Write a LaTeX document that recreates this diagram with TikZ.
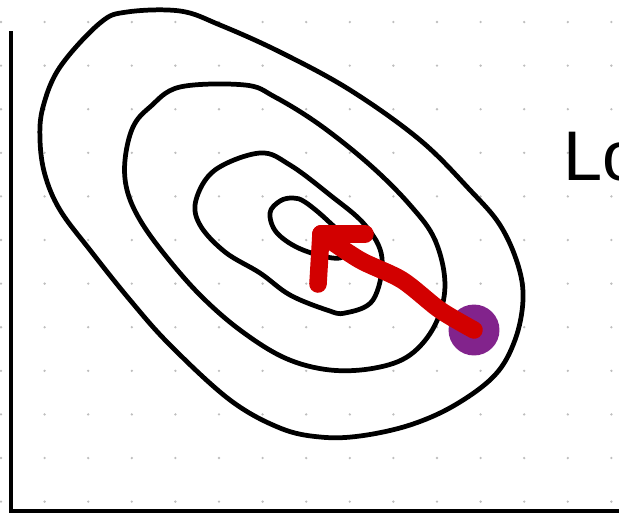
\documentclass[tikz,border=0pt]{standalone}
\usepackage{fontspec}
\setsansfont{Liberation Sans}
\usepackage{tikz}
\definecolor{gradred}{RGB}{210,0,0}
\definecolor{startdot}{RGB}{130,35,140}
\definecolor{griddot}{RGB}{190,190,190}

\begin{document}
\begin{tikzpicture}[x=0.02cm, y=-0.02cm,
  contour/.style={draw=black, line width=2.7pt, line join=round, line cap=round},
  axis/.style={draw=black, line width=2.3pt},
  grad/.style={draw=gradred, line width=10pt, line cap=round, line join=round},
  dot/.style={circle, fill=startdot, minimum size=29pt, inner sep=0pt}
]
  \useasboundingbox (0,0) rectangle (619,515);
  \clip (0,0) rectangle (619,515);
  % dotted paper
  \foreach \i in {0,...,14}
    \foreach \j in {0,...,11}
      \fill[griddot] (1+43.6*\i, 22+43.6*\j) circle (1.3);
  % axes
  \draw[axis] (11,31) -- (11,511) -- (619,511);
  % level sets
  \draw[contour] plot[smooth cycle, tension=0.6] coordinates {
    (127,12) (180,11) (220,25) (280,52) (350,90) (420,140) (470,190)
    (500,225) (518,265) (523,300) (515,340) (495,375) (455,405)
    (410,425) (360,436) (320,437) (280,428) (230,400) (170,345)
    (130,300) (90,250) (60,210) (45,175) (40,140) (43,107) (60,67) (100,23)};
  \draw[contour] plot[smooth cycle, tension=0.6] coordinates {
    (245,85) (275,97) (320,125) (370,165) (410,205) (435,240) (445,285)
    (435,325) (410,355) (375,368) (330,370) (285,358) (240,330)
    (200,295) (165,255) (140,220) (127,190) (125,160) (133,127)
    (150,107) (180,87)};
  \draw[contour] plot[smooth cycle, tension=0.6] coordinates {
    (260,153) (290,165) (330,195) (365,225) (382,258) (373,300)
    (345,313) (327,310) (290,295) (260,273) (225,252) (200,225)
    (196,200) (215,170)};
  \draw[contour] plot[smooth cycle, tension=0.6] coordinates {
    (293,198) (305,202) (327,220) (345,240) (340,258) (303,250)
    (277,233) (270,213) (280,201)};
  % step
  \node[dot] (start) at (474,330) {};
  \coordinate (tip) at (321,234);
  \draw[grad] plot[smooth, tension=0.5] coordinates {
    (start.center) (440,310) (402,280) (360,260) (tip)};
  \draw[grad] (tip) -- (318,284);
  \draw[grad] (tip) -- (365,234);
  % label
  \node[anchor=base west, inner sep=0pt, font=\sffamily\fontsize{40}{40}\selectfont]
    (lbl) at (563,180) {Lo};
\end{tikzpicture}
\end{document}
